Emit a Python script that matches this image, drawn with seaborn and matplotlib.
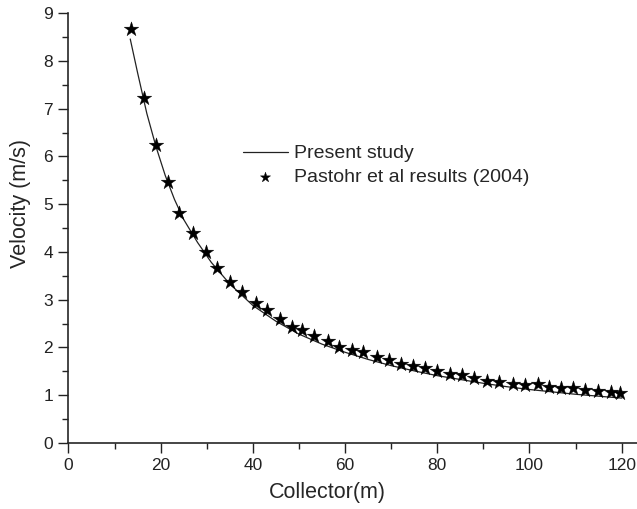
import seaborn as sns
import matplotlib.pyplot as plt
from matplotlib.ticker import MultipleLocator

#-----------------------------------------------------------------------------------------------------------------------
"""Data read from the reference"""
#Present study (solid line)
study_x = [13.4, 15, 17, 19, 21, 23, 25, 28, 31, 35, 40, 45, 50, 55, 60, 65, 70, 75, 80, 85,
           90, 95, 100, 105, 110, 115, 120]
study_v = [8.46, 7.75, 6.9, 6.2, 5.6, 5.1, 4.68, 4.2, 3.78, 3.33, 2.88, 2.55, 2.28, 2.07, 1.9, 1.75,
           1.62, 1.51, 1.41, 1.33, 1.25, 1.18, 1.12, 1.07, 1.02, 0.98, 0.94]

#Pastohr et al (stars)
pastohr_x = [13.6, 16.4, 19.0, 21.6, 24.0, 27.0, 29.8, 32.2, 35.0, 37.6, 40.6, 43.1, 45.8, 48.5,
             50.7, 53.3, 56.4, 58.7, 61.6, 63.9, 66.9, 69.5, 72.2, 74.7, 77.4, 80.0, 82.8, 85.3,
             88.0, 90.9, 93.5, 96.5, 99.0, 101.8, 104.3, 106.8, 109.4, 112.0, 114.9, 117.7, 119.7]
pastohr_v = [8.67, 7.23, 6.24, 5.47, 4.82, 4.40, 4.00, 3.66, 3.37, 3.16, 2.94, 2.79, 2.60, 2.43,
             2.36, 2.24, 2.14, 2.02, 1.94, 1.90, 1.81, 1.74, 1.65, 1.61, 1.58, 1.51, 1.45, 1.42,
             1.37, 1.30, 1.28, 1.24, 1.22, 1.23, 1.17, 1.16, 1.15, 1.10, 1.09, 1.06, 1.04]

#-----------------------------------------------------------------------------------------------------------------------
"""Figure"""
sns.set_style('ticks')
plt.rcParams['font.family'] = ['Liberation Sans', 'DejaVu Sans']

fig = plt.figure(figsize=(6.37, 5.09), dpi=100)
ax = fig.add_axes([0.1075, 0.1297, 0.8937, 0.8443])

sns.lineplot(x=study_x, y=study_v, ax=ax, color='#222222', linewidth=0.9, label='Present study')
sns.scatterplot(x=pastohr_x, y=pastohr_v, ax=ax, marker='*', s=120, color='black',
                edgecolor='black', linewidth=0.3, label='Pastohr et al results (2004)', zorder=3)

#Limits and ticks
ax.set_xlim(0, 123.5)
ax.set_ylim(0, 9)
ax.xaxis.set_major_locator(MultipleLocator(20))
ax.xaxis.set_minor_locator(MultipleLocator(10))
ax.yaxis.set_major_locator(MultipleLocator(1))
ax.yaxis.set_minor_locator(MultipleLocator(0.5))
ax.tick_params(which='major', direction='out', length=7, width=1, labelsize=12.5, pad=4, colors='#222222')
ax.tick_params(which='minor', direction='out', length=4, width=1, colors='#222222')

#Spines
sns.despine(ax=ax)
ax.spines['left'].set_linewidth(1.2)
ax.spines['bottom'].set_linewidth(1.2)

#Labels
ax.set_xlabel('Collector(m)', fontsize=15.5)
ax.set_ylabel('Velocity (m/s)', fontsize=15.5)
ax.xaxis.set_label_coords(0.454, -0.091)
ax.yaxis.set_label_coords(-0.066, 0.558)

#Legend
ax.legend(loc='center left', bbox_to_anchor=(0.3065, 0.646), frameon=False, fontsize=14,
          handlelength=2.3, handletextpad=0.3, borderpad=0, borderaxespad=0,
          labelspacing=0.3, markerscale=0.7)

fig.savefig('out.png', dpi=100, facecolor='white')
